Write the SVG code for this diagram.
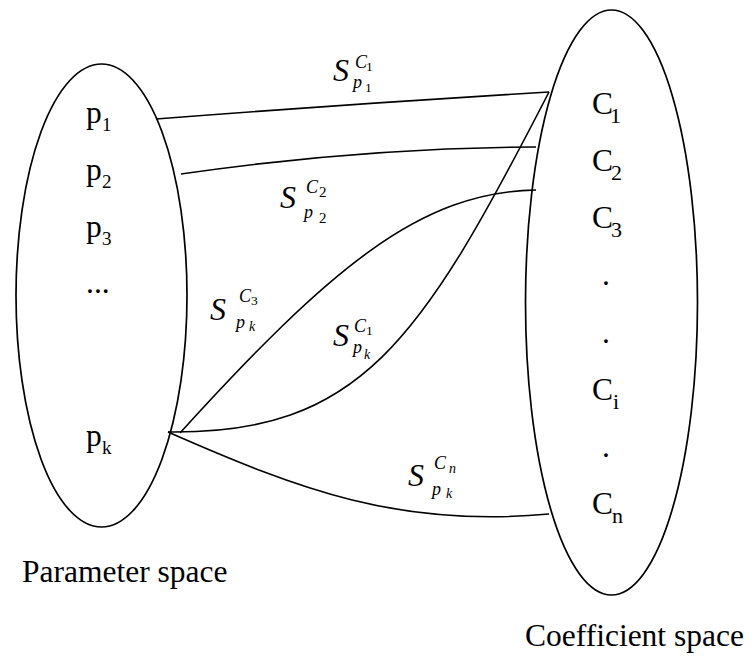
<svg xmlns="http://www.w3.org/2000/svg" width="752" height="657" viewBox="0 0 752 657">
<rect width="752" height="657" fill="#fff"/>
<g id="parameter-space">
<ellipse cx="101.5" cy="295.5" rx="85.5" ry="231.5" fill="none" stroke="#000" stroke-width="1.7"/>
<text x="86" y="123" font-size="31.5" font-family="Liberation Serif">p</text>
<text x="102" y="131" font-size="19" font-family="Liberation Serif">1</text>
<text x="86" y="180" font-size="31.5" font-family="Liberation Serif">p</text>
<text x="102" y="188" font-size="19" font-family="Liberation Serif">2</text>
<text x="86" y="237" font-size="31.5" font-family="Liberation Serif">p</text>
<text x="102" y="245" font-size="19" font-family="Liberation Serif">3</text>
<text x="86" y="293" font-size="31.5" font-family="Liberation Serif">...</text>
<text x="86" y="446" font-size="31.5" font-family="Liberation Serif">p</text>
<text x="102" y="454" font-size="19" font-family="Liberation Serif">k</text>
<text x="22" y="582" font-size="31.5" font-family="Liberation Serif">Parameter space</text>
</g>
<g id="coefficient-space">
<ellipse cx="611.5" cy="302.5" rx="86" ry="292.5" fill="none" stroke="#000" stroke-width="1.7"/>
<text x="592" y="114" font-size="31.5" font-family="Liberation Serif">C</text>
<text x="610" y="123" font-size="22" font-family="Liberation Serif">1</text>
<text x="592" y="171" font-size="31.5" font-family="Liberation Serif">C</text>
<text x="611" y="180" font-size="22" font-family="Liberation Serif">2</text>
<text x="592" y="228" font-size="31.5" font-family="Liberation Serif">C</text>
<text x="611" y="237" font-size="22" font-family="Liberation Serif">3</text>
<text x="602" y="285" font-size="31.5" font-family="Liberation Serif">.</text>
<text x="602" y="343" font-size="31.5" font-family="Liberation Serif">.</text>
<text x="592" y="400" font-size="31.5" font-family="Liberation Serif">C</text>
<text x="613" y="409" font-size="22" font-family="Liberation Serif">i</text>
<text x="602" y="457" font-size="31.5" font-family="Liberation Serif">.</text>
<text x="592" y="514" font-size="31.5" font-family="Liberation Serif">C</text>
<text x="612" y="523" font-size="22" font-family="Liberation Serif">n</text>
<text x="525" y="646" font-size="31.5" font-family="Liberation Serif">Coefficient space</text>
</g>
<g id="connectors" fill="none" stroke="#000" stroke-width="1.6">
<path d="M156,119 Q350,104 549,92"/>
<path d="M181,174 Q360,148 536,147"/>
<path d="M180,433 C330,268 420,192 536,190"/>
<path d="M168,432 C360,434 420,343 549,92"/>
<path d="M168,432 C300,490 400,528 549,514"/>
</g>
<g id="connector-labels">
<g id="label-p1-c1">
<text x="333" y="81" font-size="32" font-family="Liberation Serif" font-style="italic">S</text>
<text x="355" y="68" font-size="18" font-family="Liberation Serif" font-style="italic">C</text>
<text x="366" y="71" font-size="13.5" font-family="Liberation Serif">1</text>
<text x="353" y="88" font-size="18" font-family="Liberation Serif" font-style="italic">p</text>
<text x="365" y="92" font-size="13.5" font-family="Liberation Serif">1</text>
</g>
<g id="label-p2-c2">
<text x="280" y="208" font-size="32" font-family="Liberation Serif" font-style="italic">S</text>
<text x="306" y="193" font-size="18" font-family="Liberation Serif" font-style="italic">C</text>
<text x="319" y="197" font-size="15" font-family="Liberation Serif">2</text>
<text x="304" y="218" font-size="18" font-family="Liberation Serif" font-style="italic">p</text>
<text x="319" y="223" font-size="15" font-family="Liberation Serif">2</text>
</g>
<g id="label-pk-c3">
<text x="210" y="320" font-size="32" font-family="Liberation Serif" font-style="italic">S</text>
<text x="239" y="302" font-size="18" font-family="Liberation Serif" font-style="italic">C</text>
<text x="251" y="305" font-size="13.5" font-family="Liberation Serif">3</text>
<text x="236" y="328" font-size="18" font-family="Liberation Serif" font-style="italic">p</text>
<text x="249" y="331" font-size="14" font-family="Liberation Serif" font-style="italic">k</text>
</g>
<g id="label-pk-c1">
<text x="333" y="346" font-size="32" font-family="Liberation Serif" font-style="italic">S</text>
<text x="354" y="332" font-size="18" font-family="Liberation Serif" font-style="italic">C</text>
<text x="366" y="335" font-size="13.5" font-family="Liberation Serif">1</text>
<text x="353" y="353" font-size="18" font-family="Liberation Serif" font-style="italic">p</text>
<text x="364" y="359" font-size="14" font-family="Liberation Serif" font-style="italic">k</text>
</g>
<g id="label-pk-cn">
<text x="408" y="486" font-size="32" font-family="Liberation Serif" font-style="italic">S</text>
<text x="434" y="469" font-size="18" font-family="Liberation Serif" font-style="italic">C</text>
<text x="449" y="473" font-size="14" font-family="Liberation Serif" font-style="italic">n</text>
<text x="432" y="495" font-size="18" font-family="Liberation Serif" font-style="italic">p</text>
<text x="446" y="498" font-size="14" font-family="Liberation Serif" font-style="italic">k</text>
</g>
</g>
</svg>
